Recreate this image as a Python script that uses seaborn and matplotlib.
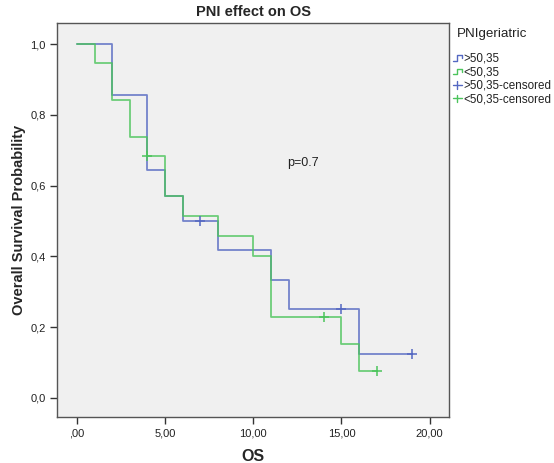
import matplotlib
matplotlib.use("Agg")
import matplotlib.pyplot as plt
import seaborn as sns
import pandas as pd
from matplotlib.lines import Line2D
from matplotlib.legend_handler import HandlerBase
from matplotlib.ticker import FuncFormatter

# ---- data ----
hi_t = [0, 2, 4, 5, 6, 8, 11, 12, 16, 19]
hi_s = [1.0, 0.857, 0.643, 0.571, 0.5, 0.417, 0.333, 0.25, 0.125, 0.125]
hi_cens_t = [7, 15, 19]
hi_cens_s = [0.5, 0.25, 0.125]

lo_t = [0, 1, 2, 3, 4, 5, 6, 8, 10, 11, 15, 16, 17]
lo_s = [1.0, 0.947, 0.842, 0.737, 0.684, 0.571, 0.514, 0.457, 0.4, 0.229, 0.153, 0.076, 0.076]
lo_cens_t = [4, 14, 17]
lo_cens_s = [0.684, 0.229, 0.076]

groups = [">50,35", "<50,35"]
x_ticks = [0, 5, 10, 15, 20]
y_ticks = [0.0, 0.2, 0.4, 0.6, 0.8, 1.0]

BLUE = "#5468c2"
GREEN = "#4cc45c"

sns.set_style("white")
plt.rcParams["font.family"] = ["Liberation Sans", "DejaVu Sans"]

fig = plt.figure(figsize=(5.54, 4.63), dpi=100)
ax = fig.add_axes([0.1029, 0.0994, 0.7076, 0.8510])
ax.set_facecolor("#f0f0f0")

df_hi = pd.DataFrame({"t": hi_t, "s": hi_s})
df_lo = pd.DataFrame({"t": lo_t, "s": lo_s})
sns.lineplot(data=df_hi, x="t", y="s", drawstyle="steps-post", color=BLUE,
             lw=1.3, alpha=0.8, estimator=None, sort=False, ax=ax)
sns.lineplot(data=df_lo, x="t", y="s", drawstyle="steps-post", color=GREEN,
             lw=1.3, alpha=0.8, estimator=None, sort=False, ax=ax)
sns.scatterplot(x=hi_cens_t, y=hi_cens_s, marker="+", s=45, color=BLUE,
                linewidth=1.1, ax=ax, zorder=5)
sns.scatterplot(x=lo_cens_t, y=lo_cens_s, marker="+", s=45, color=GREEN,
                linewidth=1.1, ax=ax, zorder=5)

ax.set_xlim(-1.13, 21.1)
ax.set_ylim(-0.054, 1.06)
ax.set_xticks(x_ticks)
ax.set_yticks(y_ticks)
ax.xaxis.set_major_formatter(FuncFormatter(
    lambda v, p: (",00" if v == 0 else f"{v:.2f}".replace(".", ","))))
ax.yaxis.set_major_formatter(FuncFormatter(lambda v, p: f"{v:.1f}".replace(".", ",")))
ax.tick_params(axis="both", direction="out", length=5, width=1, color="#333333",
               labelsize=8, labelcolor="#222222", pad=3, bottom=True, left=True)
for sp in ax.spines.values():
    sp.set_color("#555555")
    sp.set_linewidth(1)

ax.set_xlabel("OS", fontsize=11.5, fontweight="bold", labelpad=8)
ax.set_ylabel("Overall Survival Probability", fontsize=10.5, fontweight="bold", labelpad=3)
ax.set_title("PNI effect on OS", fontsize=10.5, fontweight="bold", pad=5)
ax.text(12.8, 0.664, "p=0.7", fontsize=9, color="#222222", ha="center", va="center")


class StepHandler(HandlerBase):
    def create_artists(self, legend, orig_handle, xdescent, ydescent, width, height,
                       fontsize, trans):
        w = width
        h = height
        x0 = -xdescent
        xs = [x0, x0 + 0.45 * w, x0 + 0.45 * w, x0 + w, x0 + w]
        ys = [0.15 * h, 0.15 * h, 0.8 * h, 0.8 * h, 0.45 * h]
        ln = Line2D(xs, ys, color=orig_handle.get_color(), lw=1.0, transform=trans)
        return [ln]


class CrossHandler(HandlerBase):
    def create_artists(self, legend, orig_handle, xdescent, ydescent, width, height,
                       fontsize, trans):
        c = orig_handle.get_color()
        x0 = -xdescent
        l1 = Line2D([x0, x0 + width], [0.45 * height, 0.45 * height],
                    color=c, lw=1.0, transform=trans)
        l2 = Line2D([x0 + width / 2] * 2, [0.0, 0.9 * height],
                    color=c, lw=1.0, transform=trans)
        return [l1, l2]


class StepLine(Line2D):
    pass


class CrossLine(Line2D):
    pass


handles = [StepLine([], [], color=BLUE), StepLine([], [], color=GREEN),
           CrossLine([], [], color=BLUE), CrossLine([], [], color=GREEN)]
labels = [groups[0], groups[1], groups[0] + "-censored", groups[1] + "-censored"]
leg = ax.legend(handles, labels, title="PNIgeriatric", loc="upper left",
                bbox_to_anchor=(1.0, 0.995), frameon=False, fontsize=8.4,
                title_fontsize=9.6, handlelength=0.8, handletextpad=0.1,
                labelspacing=0.12, borderaxespad=0.1, borderpad=0.2,
                handler_map={StepLine: StepHandler(), CrossLine: CrossHandler()})
leg._legend_box.align = "left"
leg._legend_box.sep = 9
title = leg.get_title()
title.set_color("#222222")
title.set_position((4, 0))
for t in leg.get_texts():
    t.set_color("#222222")

fig.savefig("out.png", dpi=100, facecolor="white")
